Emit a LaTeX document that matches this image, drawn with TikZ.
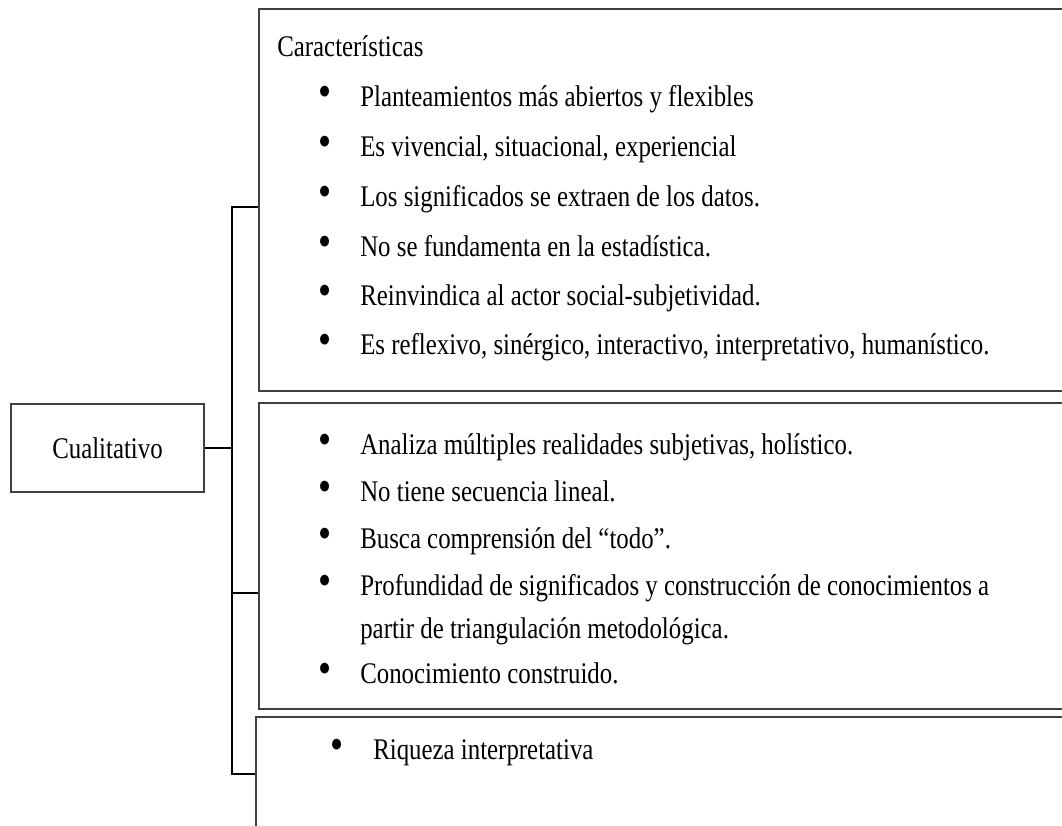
\documentclass[tikz,border=0pt]{standalone}
\usepackage{fontspec}
\setmainfont{Liberation Serif}[FakeStretch=0.83]
\begin{document}
\begin{tikzpicture}[x=0.025cm, y=-0.025cm,
	block/.style={rectangle, draw=black!75, line width=1.7pt, inner sep=0pt},
	item/.style={anchor=base west, inner sep=0pt, font=\fontsize{21.3}{25}\selectfont},
	dot/.style={anchor=base, inner sep=0pt, font=\fontsize{32}{32}\selectfont},
	link/.style={draw=black, line width=1.3pt}]
	
	\clip (0,0) rectangle (1062,825);
	\fill[white] (0,0) rectangle (1062,825);
	
	%Blocks
	\node (cualitativo) at (107.5,448) [block, minimum width=4.825cm, minimum height=2.2cm] {};
	\node (caracteristicas) at (669.5,200) [block, minimum width=20.525cm, minimum height=9.55cm] {};
	\node (analisis) at (669.5,556) [block, minimum width=20.525cm, minimum height=7.65cm] {};
	\node (riqueza) at (668,788.5) [block, minimum width=20.6cm, minimum height=3.575cm] {};
	
	%Texts
	\node (tCualitativo) at (cualitativo.center) [inner sep=0pt, font=\fontsize{21.3}{25}\selectfont] {Cualitativo};
	\node (tCaract) at (277,56) [item] {Características};
	
	\node (b1) at (325,106) [dot] {\textbullet};
	\node (t1) at (360,106) [item] {Planteamientos más abiertos y flexibles};
	\node (b2) at (325,156) [dot] {\textbullet};
	\node (t2) at (360,156) [item] {Es vivencial, situacional, experiencial};
	\node (b3) at (325,206) [dot] {\textbullet};
	\node (t3) at (360,206) [item] {Los significados se extraen de los datos.};
	\node (b4) at (325,256) [dot] {\textbullet};
	\node (t4) at (360,256) [item] {No se fundamenta en la estadística.};
	\node (b5) at (325,305) [dot] {\textbullet};
	\node (t5) at (360,305) [item] {Reinvindica al actor social-subjetividad.};
	\node (b6) at (325,354) [dot] {\textbullet};
	\node (t6) at (360,354) [item] {Es reflexivo, sinérgico, interactivo, interpretativo, humanístico.};
	
	\node (b7) at (325,454) [dot] {\textbullet};
	\node (t7) at (360,454) [item] {Analiza múltiples realidades subjetivas, holístico.};
	\node (b8) at (325,501) [dot] {\textbullet};
	\node (t8) at (360,501) [item] {No tiene secuencia lineal.};
	\node (b9) at (325,548) [dot] {\textbullet};
	\node (t9) at (360,548) [item] {Busca comprensión del “todo”.};
	\node (b10) at (325,595) [dot] {\textbullet};
	\node (t10) at (360,595) [item] {Profundidad de significados y construcción de conocimientos a};
	\node (t10b) at (360,638) [item] {partir de triangulación metodológica.};
	\node (b11) at (325,683) [dot] {\textbullet};
	\node (t11) at (360,683) [item] {Conocimiento construido.};
	
	\node (b12) at (337,759) [dot] {\textbullet};
	\node (t12) at (373,759) [item] {Riqueza interpretativa};
	
	%Links
	\coordinate (ramaTop) at (232,207);
	\coordinate (ramaMid) at (232,593);
	\coordinate (ramaBot) at (232,774);
	\draw [link] (cualitativo.east) -- (cualitativo.east -| ramaTop);
	\draw [link] (ramaTop -| caracteristicas.west) -- (ramaTop) -- (ramaBot) -- (ramaBot -| riqueza.west);
	\draw [link] (ramaMid) -- (ramaMid -| analisis.west);
	
\end{tikzpicture}
\end{document}
